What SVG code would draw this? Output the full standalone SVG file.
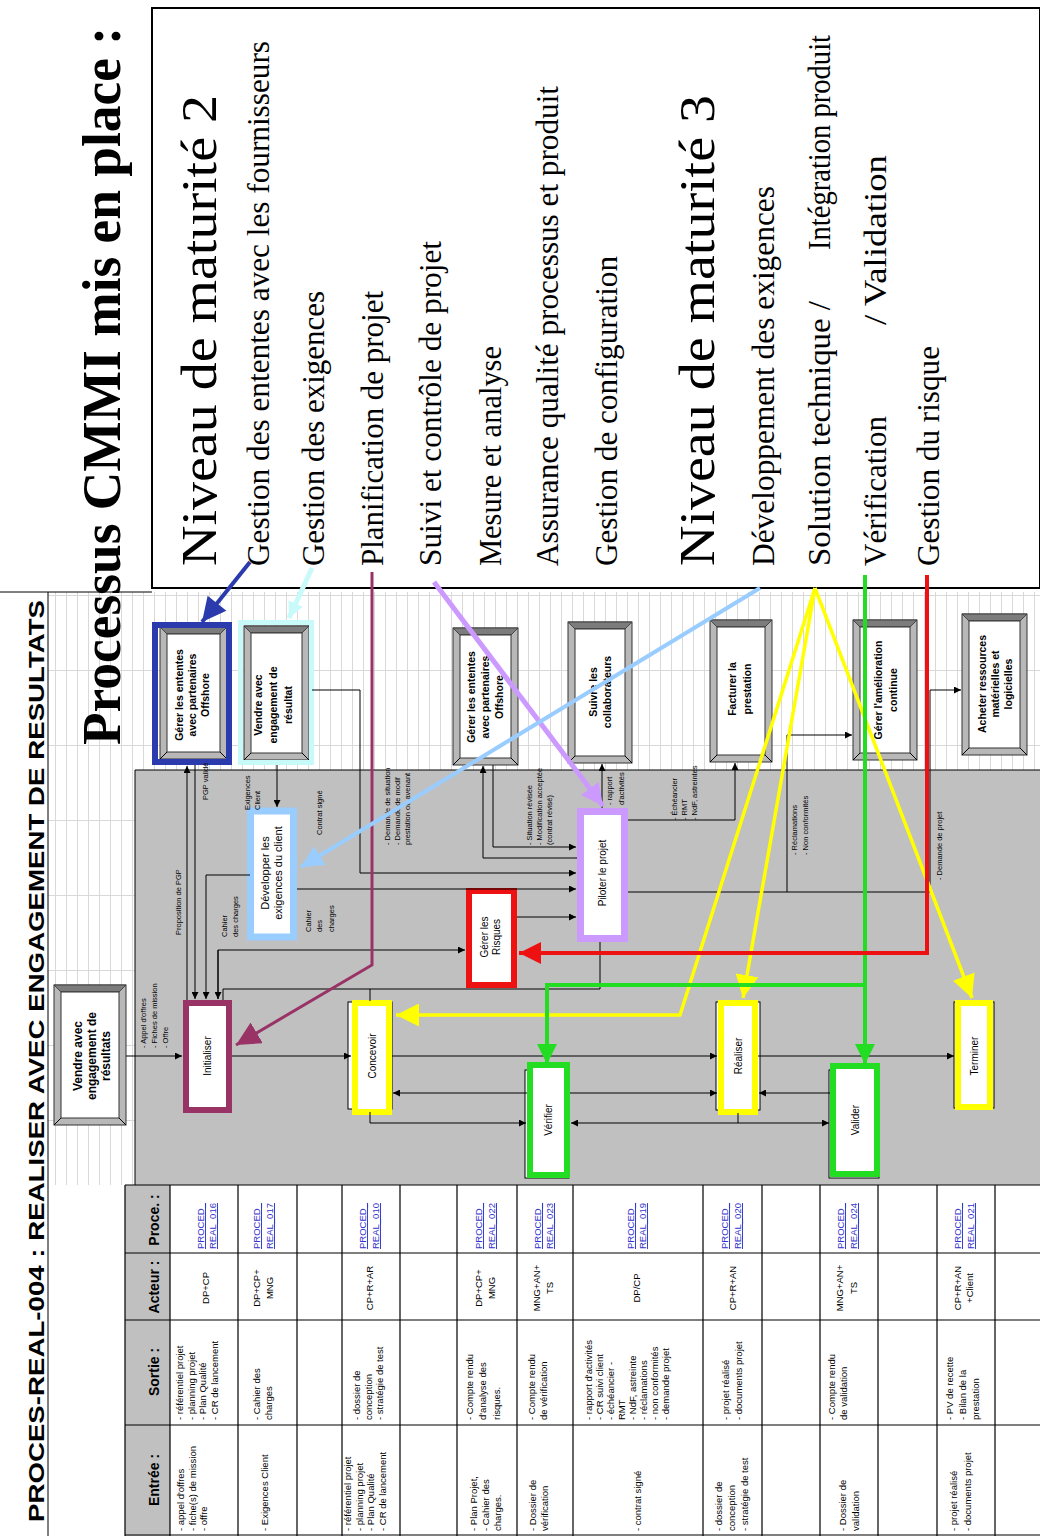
<svg xmlns="http://www.w3.org/2000/svg" width="1040" height="1536" viewBox="0 0 1040 1536">
<defs>
<style>
text{font-family:"Liberation Sans",Arial,sans-serif;fill:#000}
.bo{fill:#b8b8b8;stroke:#333;stroke-width:1}
.bt{fill:#7c7c7c;stroke:#333;stroke-width:0.8}
.bi{fill:#fff;stroke:#333;stroke-width:1}
.bx{font-weight:bold;font-size:10.5px;text-anchor:middle}
.pb{fill:#fff;stroke:#000;stroke-width:1}
.pt{font-size:10px;text-anchor:middle}
.lb{font-size:7.5px}
.ln{fill:none;stroke:#000;stroke-width:1}
.ar{marker-end:url(#a)}
.cm{font-family:"Liberation Serif","Times New Roman",serif;font-size:32px}
.cm2{font-family:"Liberation Serif","Times New Roman",serif;font-size:50px}
.ttl{font-family:"Liberation Serif","Times New Roman",serif;font-size:54px;font-weight:bold}
.tb{font-size:9.5px}
.lk{fill:#3333cc;text-decoration:underline}
.hd{font-weight:bold;font-size:14px;text-anchor:middle}
.tl{stroke:#000;stroke-width:1.2}
</style>
<marker id="a" viewBox="0 0 10 10" refX="10" refY="5" markerWidth="7" markerHeight="7" markerUnits="userSpaceOnUse" orient="auto"><path d="M0,0L10,5L0,10z" fill="#000"/></marker>
<marker id="mBlue" viewBox="0 0 20 20" refX="20" refY="10" markerWidth="26" markerHeight="24" markerUnits="userSpaceOnUse" orient="auto"><path d="M0,0L20,10L0,20z" fill="#2b3bae"/></marker>
<marker id="mCyan" viewBox="0 0 20 20" refX="20" refY="10" markerWidth="16" markerHeight="16" markerUnits="userSpaceOnUse" orient="auto"><path d="M0,0L20,10L0,20z" fill="#c8fafa"/></marker>
<marker id="mMaroon" viewBox="0 0 20 20" refX="20" refY="10" markerWidth="24" markerHeight="24" markerUnits="userSpaceOnUse" orient="auto"><path d="M0,0L20,10L0,20z" fill="#993366"/></marker>
<marker id="mLav" viewBox="0 0 20 20" refX="20" refY="10" markerWidth="22" markerHeight="22" markerUnits="userSpaceOnUse" orient="auto"><path d="M0,0L20,10L0,20z" fill="#cc99ff"/></marker>
<marker id="mLblue" viewBox="0 0 20 20" refX="20" refY="10" markerWidth="22" markerHeight="22" markerUnits="userSpaceOnUse" orient="auto"><path d="M0,0L20,10L0,20z" fill="#99ccff"/></marker>
<marker id="mYel" viewBox="0 0 20 20" refX="20" refY="10" markerWidth="23" markerHeight="23" markerUnits="userSpaceOnUse" orient="auto"><path d="M0,0L20,10L0,20z" fill="#ffff00"/></marker>
<marker id="mGreen" viewBox="0 0 20 20" refX="20" refY="10" markerWidth="20" markerHeight="20" markerUnits="userSpaceOnUse" orient="auto"><path d="M0,0L20,10L0,20z" fill="#22dd22"/></marker>
<marker id="mRed" viewBox="0 0 20 20" refX="20" refY="10" markerWidth="22" markerHeight="22" markerUnits="userSpaceOnUse" orient="auto"><path d="M0,0L20,10L0,20z" fill="#ee1111"/></marker>
<pattern id="grid" x="0" y="595" width="11" height="75" patternUnits="userSpaceOnUse"><path d="M0.5 0V75M0 0.5H11" stroke="#d9d9d9" stroke-width="1" fill="none"/></pattern>
</defs>

<rect x="0" y="0" width="1040" height="1536" fill="#fff"/>

<!-- background frame -->
<g id="frame">
<rect x="48" y="592" width="992" height="178" fill="url(#grid)"/>
<rect x="48" y="770" width="87" height="415" fill="url(#grid)"/>
<rect x="135" y="770" width="905" height="415" fill="#c0c0c0"/>
<path class="ln" d="M0 592H152M48 592V1536M135 770V1185M135 770H1040"/>
</g>

<!-- title -->
<text id="title" transform="translate(44,1522) rotate(-90)" font-weight="bold" font-size="22" textLength="922" lengthAdjust="spacingAndGlyphs">PROCES-REAL-004 : REALISER AVEC ENGAGEMENT DE RESULTATS</text>

<!-- table -->
<g id="table">
<rect x="125" y="1185" width="45" height="351" fill="#c0c0c0"/>
<path class="tl" d="M125 1185H1040M125 1253H1040M125 1320H1040M125 1425H1040M125 1535H1040M125 1185V1536M170 1185V1536M238 1185V1536M297 1185V1536M342 1185V1536M400 1185V1536M457 1185V1536M517 1185V1536M573 1185V1536M703 1185V1536M762 1185V1536M820 1185V1536M878 1185V1536M937 1185V1536M995 1185V1536"/>
<text class="hd" transform="translate(159,1220) rotate(-90)">Proce. :</text>
<text class="hd" transform="translate(159,1287) rotate(-90)">Acteur :</text>
<text class="hd" transform="translate(159,1372) rotate(-90)">Sortie :</text>
<text class="hd" transform="translate(159,1480) rotate(-90)">Entrée :</text>

<!-- row A -->
<text class="tb lk" transform="translate(204,1249) rotate(-90)"><tspan x="0" y="0">PROCED_</tspan><tspan x="0" y="12">REAL_016</tspan></text>
<text class="tb" text-anchor="middle" transform="translate(209,1288) rotate(-90)">DP+CP</text>
<text class="tb" transform="translate(183,1420) rotate(-90)"><tspan x="0" y="0">- référentiel projet</tspan><tspan x="0" y="11.5">- planning projet</tspan><tspan x="0" y="23">- Plan Qualité</tspan><tspan x="0" y="34.5">- CR de lancement</tspan></text>
<text class="tb" transform="translate(184,1531) rotate(-90)"><tspan x="0" y="0">- appel d'offres</tspan><tspan x="0" y="12">- fiche(s) de mission</tspan><tspan x="0" y="23">- offre</tspan></text>
<!-- row B -->
<text class="tb lk" transform="translate(260,1249) rotate(-90)"><tspan x="0" y="0">PROCED_</tspan><tspan x="0" y="13">REAL_017</tspan></text>
<text class="tb" text-anchor="middle" transform="translate(260,1288) rotate(-90)"><tspan x="0" y="0">DP+CP+</tspan><tspan x="0" y="13">MNG</tspan></text>
<text class="tb" transform="translate(260,1420) rotate(-90)"><tspan x="0" y="0">- Cahier des</tspan><tspan x="0" y="12">charges</tspan></text>
<text class="tb" transform="translate(268,1531) rotate(-90)">- Exigences Client</text>
<!-- row C -->
<text class="tb lk" transform="translate(366,1249) rotate(-90)"><tspan x="0" y="0">PROCED_</tspan><tspan x="0" y="13">REAL_010</tspan></text>
<text class="tb" text-anchor="middle" transform="translate(373,1288) rotate(-90)">CP+R+AR</text>
<text class="tb" transform="translate(360,1420) rotate(-90)"><tspan x="0" y="0">- dossier de</tspan><tspan x="0" y="12">conception</tspan><tspan x="0" y="23">- stratégie de test</tspan></text>
<text class="tb" transform="translate(351,1531) rotate(-90)"><tspan x="0" y="0">- référentiel projet</tspan><tspan x="0" y="11.5">- planning projet</tspan><tspan x="0" y="23">- Plan Qualité</tspan><tspan x="0" y="34.5">- CR de lancement</tspan></text>
<!-- row D -->
<text class="tb lk" transform="translate(482,1249) rotate(-90)"><tspan x="0" y="0">PROCED_</tspan><tspan x="0" y="13">REAL_022</tspan></text>
<text class="tb" text-anchor="middle" transform="translate(482,1288) rotate(-90)"><tspan x="0" y="0">DP+CP+</tspan><tspan x="0" y="13">MNG</tspan></text>
<text class="tb" transform="translate(473,1420) rotate(-90)"><tspan x="0" y="0">- Compte rendu</tspan><tspan x="0" y="13">d'analyse des</tspan><tspan x="0" y="27">risques.</tspan></text>
<text class="tb" transform="translate(477,1531) rotate(-90)"><tspan x="0" y="0">- Plan Projet,</tspan><tspan x="0" y="12">- Cahier des</tspan><tspan x="0" y="24">charges.</tspan></text>
<!-- row E -->
<text class="tb lk" transform="translate(541,1249) rotate(-90)"><tspan x="0" y="0">PROCED_</tspan><tspan x="0" y="12">REAL_023</tspan></text>
<text class="tb" text-anchor="middle" transform="translate(540,1288) rotate(-90)"><tspan x="0" y="0">MNG+AN+</tspan><tspan x="0" y="13">TS</tspan></text>
<text class="tb" transform="translate(535,1420) rotate(-90)"><tspan x="0" y="0">- Compte rendu</tspan><tspan x="0" y="12">de vérification</tspan></text>
<text class="tb" transform="translate(536,1531) rotate(-90)"><tspan x="0" y="0">- Dossier de</tspan><tspan x="0" y="12">vérification</tspan></text>
<!-- row F -->
<text class="tb lk" transform="translate(634,1249) rotate(-90)"><tspan x="0" y="0">PROCED_</tspan><tspan x="0" y="12">REAL_019</tspan></text>
<text class="tb" text-anchor="middle" transform="translate(640,1288) rotate(-90)">DP/CP</text>
<text class="tb" transform="translate(592,1420) rotate(-90)"><tspan x="0" y="0">- rapport d'activités</tspan><tspan x="0" y="11">- CR suivi client</tspan><tspan x="0" y="22">- échéancier -</tspan><tspan x="0" y="33">RMT</tspan><tspan x="0" y="44">- NdF, astreinte</tspan><tspan x="0" y="55">- réclamations</tspan><tspan x="0" y="66">- non conformités</tspan><tspan x="0" y="77">- demande projet</tspan></text>
<text class="tb" transform="translate(641,1531) rotate(-90)">- contrat signé</text>
<!-- row G -->
<text class="tb lk" transform="translate(728,1249) rotate(-90)"><tspan x="0" y="0">PROCED_</tspan><tspan x="0" y="13">REAL_020</tspan></text>
<text class="tb" text-anchor="middle" transform="translate(736,1288) rotate(-90)">CP+R+AN</text>
<text class="tb" transform="translate(729,1420) rotate(-90)"><tspan x="0" y="0">- projet réalisé</tspan><tspan x="0" y="13">- documents projet</tspan></text>
<text class="tb" transform="translate(722,1531) rotate(-90)"><tspan x="0" y="0">- dossier de</tspan><tspan x="0" y="13">conception</tspan><tspan x="0" y="26">- stratégie de test</tspan></text>
<!-- row H -->
<text class="tb lk" transform="translate(844,1249) rotate(-90)"><tspan x="0" y="0">PROCED_</tspan><tspan x="0" y="13">REAL_024</tspan></text>
<text class="tb" text-anchor="middle" transform="translate(843,1288) rotate(-90)"><tspan x="0" y="0">MNG+AN+</tspan><tspan x="0" y="14">TS</tspan></text>
<text class="tb" transform="translate(835,1420) rotate(-90)"><tspan x="0" y="0">- Compte rendu</tspan><tspan x="0" y="12">de validation</tspan></text>
<text class="tb" transform="translate(846,1531) rotate(-90)"><tspan x="0" y="0">- Dossier de</tspan><tspan x="0" y="13">validation</tspan></text>
<!-- row I -->
<text class="tb lk" transform="translate(961,1249) rotate(-90)"><tspan x="0" y="0">PROCED_</tspan><tspan x="0" y="13">REAL_021</tspan></text>
<text class="tb" text-anchor="middle" transform="translate(961,1288) rotate(-90)"><tspan x="0" y="0">CP+R+AN</tspan><tspan x="0" y="12">+Client</tspan></text>
<text class="tb" transform="translate(953,1420) rotate(-90)"><tspan x="0" y="0">- PV de recette</tspan><tspan x="0" y="13">- Bilan de la</tspan><tspan x="0" y="26">prestation</tspan></text>
<text class="tb" transform="translate(957,1531) rotate(-90)"><tspan x="0" y="0">- projet réalisé</tspan><tspan x="0" y="14">- documents projet</tspan></text>
</g>

<!-- bevel boxes (top strip) -->
<g id="n-gerer-ententes-1">
<rect class="bo" x="160" y="627" width="67" height="132"/><polygon class="bt" points="160,627 227,627 220,634 167,634"/><rect class="bi" x="167" y="634" width="53" height="118"/><path class="ln" d="M160 759L167 752M227 759L220 752"/>
<rect x="155" y="625" width="74" height="137" fill="none" stroke="#2b3bae" stroke-width="6"/>
<text class="bx" transform="translate(183,695) rotate(-90)"><tspan x="0" y="0">Gérer les ententes</tspan><tspan x="0" y="13">avec partenaires</tspan><tspan x="0" y="26">Offshore</tspan></text>
</g>
<g id="n-vendre-resultat">
<rect class="bo" x="244" y="626" width="65" height="134"/><polygon class="bt" points="244,626 309,626 302,633 251,633"/><rect class="bi" x="251" y="633" width="51" height="120"/><path class="ln" d="M244 760L251 753M309 760L302 753"/>
<rect x="240.5" y="622.5" width="71" height="140" fill="none" stroke="#c8fafa" stroke-width="5"/>
<text class="bx" transform="translate(262,705) rotate(-90)"><tspan x="0" y="0">Vendre avec</tspan><tspan x="0" y="15">engagement de</tspan><tspan x="0" y="30">résultat</tspan></text>
</g>
<g id="n-gerer-ententes-2">
<rect class="bo" x="453" y="628" width="65" height="137"/><polygon class="bt" points="453,628 518,628 511,635 460,635"/><rect class="bi" x="460" y="635" width="51" height="123"/><path class="ln" d="M453 765L460 758M518 765L511 758"/>
<text class="bx" transform="translate(475,697) rotate(-90)"><tspan x="0" y="0">Gérer les ententes</tspan><tspan x="0" y="14">avec partenaires</tspan><tspan x="0" y="28">Offshore</tspan></text>
</g>
<g id="n-suivre">
<rect class="bo" x="568" y="622" width="64" height="141"/><polygon class="bt" points="568,622 632,622 625,629 575,629"/><rect class="bi" x="575" y="629" width="50" height="127"/><path class="ln" d="M568 763L575 756M632 763L625 756"/>
<text class="bx" transform="translate(597,692) rotate(-90)"><tspan x="0" y="0">Suivre les</tspan><tspan x="0" y="14">collaborateurs</tspan></text>
</g>
<g id="n-facturer">
<rect class="bo" x="710" y="620" width="62" height="142"/><polygon class="bt" points="710,620 772,620 765,627 717,627"/><rect class="bi" x="717" y="627" width="48" height="128"/><path class="ln" d="M710 762L717 755M772 762L765 755"/>
<text class="bx" transform="translate(736,689) rotate(-90)"><tspan x="0" y="0">Facturer la</tspan><tspan x="0" y="15">prestation</tspan></text>
</g>
<g id="n-amelioration">
<rect class="bo" x="853" y="620" width="64" height="140"/><polygon class="bt" points="853,620 917,620 910,627 860,627"/><rect class="bi" x="860" y="627" width="50" height="126"/><path class="ln" d="M853 760L860 753M917 760L910 753"/>
<text class="bx" transform="translate(882,690) rotate(-90)"><tspan x="0" y="0">Gérer l'amélioration</tspan><tspan x="0" y="15">continue</tspan></text>
</g>
<g id="n-acheter">
<rect class="bo" x="962" y="614" width="65" height="141"/><polygon class="bt" points="962,614 1027,614 1020,621 969,621"/><rect class="bi" x="969" y="621" width="51" height="127"/><path class="ln" d="M962 755L969 748M1027 755L1020 748"/>
<text class="bx" transform="translate(986,684) rotate(-90)"><tspan x="0" y="0">Acheter ressources</tspan><tspan x="0" y="13">matérielles et</tspan><tspan x="0" y="26">logicielles</tspan></text>
</g>
<g id="n-vendre-left">
<rect class="bo" x="54" y="985" width="72" height="140"/><polygon class="bt" points="54,985 126,985 119,992 61,992"/><rect class="bi" x="61" y="992" width="58" height="126"/><path class="ln" d="M54 1125L61 1118M126 1125L119 1118"/>
<text class="bx" style="font-size:12px" transform="translate(82,1056) rotate(-90)"><tspan x="0" y="0">Vendre avec</tspan><tspan x="0" y="14">engagement de</tspan><tspan x="0" y="28">résultats</tspan></text>
</g>

<!-- process boxes in grey area -->
<g id="n-developper">
<rect class="pb" x="250.5" y="811" width="43" height="126"/>
<rect x="250.5" y="811" width="43" height="126" fill="none" stroke="#99ccff" stroke-width="7"/>
<text class="pt" style="font-size:11px" transform="translate(269,873) rotate(-90)"><tspan x="0" y="0">Développer  les</tspan><tspan x="0" y="13">exigences du client</tspan></text>
</g>
<g id="n-risques">
<rect class="pb" x="469" y="891" width="45" height="94"/>
<rect x="469" y="891" width="45" height="94" fill="none" stroke="#ee1111" stroke-width="6"/>
<text class="pt" transform="translate(488,937) rotate(-90)"><tspan x="0" y="0">Gérer les</tspan><tspan x="0" y="12">Risques</tspan></text>
</g>
<g id="n-piloter">
<rect class="pb" x="580.5" y="811.5" width="44" height="127"/>
<rect x="580.5" y="811.5" width="44" height="127" fill="none" stroke="#cc99ff" stroke-width="7"/>
<text class="pt" transform="translate(606,873) rotate(-90)">Piloter le projet</text>
</g>
<g id="n-initialiser">
<rect class="pb" x="186" y="1003" width="43" height="107"/>
<rect x="186" y="1003" width="43" height="107" fill="none" stroke="#993366" stroke-width="6"/>
<text class="pt" transform="translate(211,1056) rotate(-90)">Initialiser</text>
</g>
<g id="n-concevoir">
<rect class="pb" x="348" y="1002" width="44" height="107"/>
<rect x="355" y="1003" width="34" height="109" fill="#fff" stroke="#ffff00" stroke-width="6"/>
<text class="pt" transform="translate(376,1056) rotate(-90)">Concevoir</text>
</g>
<g id="n-verifier">
<rect class="pb" x="525" y="1070" width="44" height="108"/>
<rect x="530" y="1065" width="37" height="110" fill="#fff" stroke="#22dd22" stroke-width="6"/>
<text class="pt" transform="translate(552,1120) rotate(-90)">Vérifier</text>
</g>
<g id="n-realiser">
<rect class="pb" x="716" y="1002" width="44" height="108"/>
<rect x="721" y="1003" width="34" height="109" fill="#fff" stroke="#ffff00" stroke-width="6"/>
<text class="pt" transform="translate(742,1056) rotate(-90)">Réaliser</text>
</g>
<g id="n-valider">
<rect class="pb" x="829" y="1070" width="50" height="108"/>
<rect x="833" y="1066" width="44" height="108" fill="#fff" stroke="#22dd22" stroke-width="6"/>
<text class="pt" transform="translate(859,1120) rotate(-90)">Valider</text>
</g>
<g id="n-terminer">
<rect class="pb" x="954" y="1002" width="40" height="106"/>
<rect x="958" y="1003" width="32" height="104" fill="#fff" stroke="#ffff00" stroke-width="6"/>
<text class="pt" transform="translate(978,1056) rotate(-90)">Terminer</text>
</g>

<!-- black connectors -->
<g id="connectors">
<path class="ln ar" d="M126 1056H182"/>
<path class="ln ar" d="M232 1056H351"/>
<path class="ln ar" d="M392 1056H717"/>
<path class="ln ar" d="M758 1056H954"/>
<path class="ln ar" d="M370 1112V1123H526"/>
<path class="ln ar" d="M527 1093H393"/>
<path class="ln ar" d="M570 1093H717"/>
<path class="ln ar" d="M738 1113V1123H571"/>
<path class="ln ar" d="M738 1123H829"/>
<path class="ln ar" d="M830 1093H759"/>
<path class="ln ar" d="M187 1000V766"/>
<path class="ln ar" d="M195 765V999"/>
<path class="ln ar" d="M250 875H206V999"/>
<path class="ln ar" d="M218 999V950H465"/>
<path class="ln ar" d="M218 950V999"/>
<path class="ln" d="M600 942V989H223V1000M370 989V1001"/>
<path class="ln ar" d="M277 765V807"/>
<path class="ln ar" d="M312 690H360V873H576"/>
<path class="ln ar" d="M297 889H576"/>
<path class="ln ar" d="M517 917H576"/>
<path class="ln ar" d="M493 765V847H576"/>
<path class="ln ar" d="M577 858H483V766"/>
<path class="ln ar" d="M602 808V764"/>
<path class="ln ar" d="M628 820H735V763"/>
<path class="ln ar" d="M628 892H787V735H852"/>
<path class="ln ar" d="M787 892H930V690H961"/>
</g>

<!-- connector labels -->
<g id="labels">
<text class="lb" transform="translate(146,1048) rotate(-90)"><tspan x="0" y="0">- Appel d'offres</tspan><tspan x="0" y="11">- Fiches de mission</tspan><tspan x="0" y="22">- Offre</tspan></text>
<text class="lb" transform="translate(181,935) rotate(-90)">Proposition de PGP</text>
<text class="lb" transform="translate(208,800) rotate(-90)">PGP validé</text>
<text class="lb" transform="translate(250,810) rotate(-90)"><tspan x="0" y="0">Exigences</tspan><tspan x="0" y="10">Client</tspan></text>
<text class="lb" transform="translate(227,937) rotate(-90)"><tspan x="0" y="0">Cahier</tspan><tspan x="0" y="11">des charges</tspan></text>
<text class="lb" transform="translate(311,932) rotate(-90)"><tspan x="0" y="0">Cahier</tspan><tspan x="0" y="11">des</tspan><tspan x="0" y="23">charges</tspan></text>
<text class="lb" transform="translate(322,835) rotate(-90)">Contrat signé</text>
<text class="lb" transform="translate(390,845) rotate(-90)"><tspan x="0" y="0">- Demande de situation</tspan><tspan x="0" y="10">- Demande de modif</tspan><tspan x="0" y="20">prestation ou avenant</tspan></text>
<text class="lb" transform="translate(532,845) rotate(-90)"><tspan x="0" y="0">- Situation révisée</tspan><tspan x="0" y="10">- Modification acceptée</tspan><tspan x="0" y="20">(contrat révisé)</tspan></text>
<text class="lb" transform="translate(612,805) rotate(-90)"><tspan x="0" y="0">- rapport</tspan><tspan x="0" y="12">d'activités</tspan></text>
<text class="lb" transform="translate(677,820) rotate(-90)"><tspan x="0" y="0">- Échéancier</tspan><tspan x="0" y="10">- RMT</tspan><tspan x="0" y="20">- NdF, astreintes</tspan></text>
<text class="lb" transform="translate(797,855) rotate(-90)"><tspan x="0" y="0">- Réclamations</tspan><tspan x="0" y="11">- Non conformités</tspan></text>
<text class="lb" transform="translate(942,880) rotate(-90)">- Demande de projet</text>
</g>

<!-- CMMI panel -->
<g id="cmmi-panel">
<rect x="152" y="8" width="888" height="580" fill="#fff" stroke="#000" stroke-width="2"/>
<text class="ttl" transform="translate(120,745) rotate(-90)" textLength="718" lengthAdjust="spacingAndGlyphs">Processus CMMI mis en place :</text>
<text class="cm2" transform="translate(216,566) rotate(-90)" textLength="471" lengthAdjust="spacingAndGlyphs">Niveau de maturité 2</text>
<text class="cm" transform="translate(269,566) rotate(-90)" textLength="525" lengthAdjust="spacingAndGlyphs">Gestion des ententes avec les fournisseurs</text>
<text class="cm" transform="translate(324,566) rotate(-90)" textLength="275" lengthAdjust="spacingAndGlyphs">Gestion des exigences</text>
<text class="cm" transform="translate(383,566) rotate(-90)" textLength="275" lengthAdjust="spacingAndGlyphs">Planification de projet</text>
<text class="cm" transform="translate(441,566) rotate(-90)" textLength="325" lengthAdjust="spacingAndGlyphs">Suivi et contrôle de projet</text>
<text class="cm" transform="translate(501,566) rotate(-90)" textLength="220" lengthAdjust="spacingAndGlyphs">Mesure et analyse</text>
<text class="cm" transform="translate(558,566) rotate(-90)" textLength="480" lengthAdjust="spacingAndGlyphs">Assurance qualité processus et produit</text>
<text class="cm" transform="translate(617,566) rotate(-90)" textLength="310" lengthAdjust="spacingAndGlyphs">Gestion de configuration</text>
<text class="cm2" transform="translate(714,566) rotate(-90)" textLength="471" lengthAdjust="spacingAndGlyphs">Niveau de maturité 3</text>
<text class="cm" transform="translate(774,566) rotate(-90)" textLength="380" lengthAdjust="spacingAndGlyphs">Développement des exigences</text>
<text class="cm" transform="translate(830,566) rotate(-90)" textLength="265" lengthAdjust="spacingAndGlyphs">Solution technique /</text>
<text class="cm" transform="translate(830,250) rotate(-90)" textLength="215" lengthAdjust="spacingAndGlyphs">Intégration produit</text>
<text class="cm" transform="translate(886,566) rotate(-90)" textLength="150" lengthAdjust="spacingAndGlyphs">Vérification</text>
<text class="cm" transform="translate(886,325) rotate(-90)" textLength="170" lengthAdjust="spacingAndGlyphs">/ Validation</text>
<text class="cm" transform="translate(939,566) rotate(-90)" textLength="220" lengthAdjust="spacingAndGlyphs">Gestion du risque</text>
</g>

<!-- CMMI coloured arrows -->
<g id="cmmi-arrows" fill="none">
<path d="M250 562L202 622" stroke="#2b3bae" stroke-width="4" marker-end="url(#mBlue)"/>
<path d="M312 568L289 618" stroke="#c8fafa" stroke-width="5" marker-end="url(#mCyan)"/>
<path d="M372 572V965L236 1045" stroke="#993366" stroke-width="3" marker-end="url(#mMaroon)"/>
<path d="M434 582L603 806" stroke="#cc99ff" stroke-width="5" marker-end="url(#mLav)"/>
<path d="M760 588L301 867" stroke="#99ccff" stroke-width="4" marker-end="url(#mLblue)"/>
<path d="M815 588L743 998" stroke="#ffff00" stroke-width="3.5" marker-end="url(#mYel)"/>
<path d="M815 588L680 1015H396" stroke="#ffff00" stroke-width="3.5" marker-end="url(#mYel)"/>
<path d="M815 588L972 998" stroke="#ffff00" stroke-width="3.5" marker-end="url(#mYel)"/>
<path d="M865 575V1064" stroke="#22dd22" stroke-width="4" marker-end="url(#mGreen)"/>
<path d="M865 985H547V1064" stroke="#22dd22" stroke-width="4" marker-end="url(#mGreen)"/>
<path d="M927 575V953H519" stroke="#ee1111" stroke-width="4" marker-end="url(#mRed)"/>
</g>
</svg>
